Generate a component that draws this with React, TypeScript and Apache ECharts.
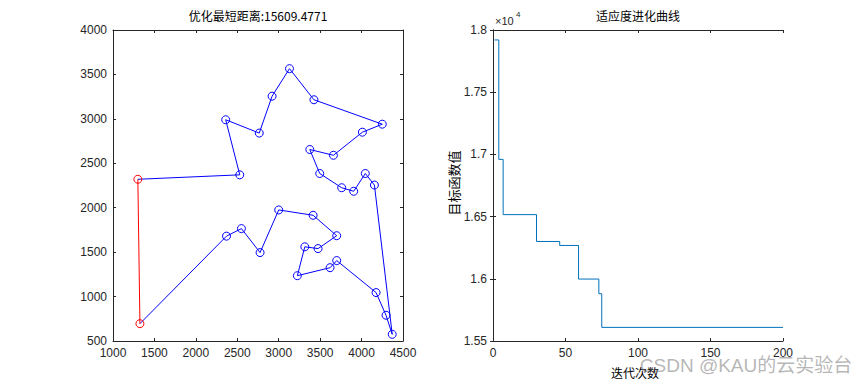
import React, { useEffect, useRef } from "react";
import * as echarts from "echarts";

// Route (city order) — TSP best tour
const routeX = [1300, 2530, 2360, 2765, 2920, 3130, 3425, 4250, 4010, 3660, 3375, 3495, 3760, 3905, 4045, 4155, 4370, 4295, 4175, 3700, 3620, 3225, 3315, 3475, 3700, 3415, 3000, 2775, 2550, 2370, 1325];
const routeY = [2320, 2370, 2990, 2840, 3255, 3565, 3215, 2940, 2850, 2590, 2655, 2385, 2225, 2185, 2385, 2255, 575, 790, 1045, 1405, 1325, 1235, 1560, 1540, 1685, 1915, 1975, 1495, 1765, 1680, 695];

// Fitness evolution (step changes): iteration where value starts, value
const iterBreaks = [1, 4, 7, 30, 46, 59, 73, 75, 200];
const fitnessVals = [17920, 16960, 16516, 16300, 16268, 15998, 15880, 15609.4771, 15609.4771];

const leftXTicks = { min: 1000, max: 4500, interval: 500 };
const leftYTicks = { min: 500, max: 4000, interval: 500 };
const rightXTicks = { min: 0, max: 200, interval: 50 };
const rightYTicks = { min: 15500, max: 18000, interval: 500 };

const leftTitle = "优化最短距离:15609.4771";
const rightTitle = "适应度进化曲线";
const rightXLabel = "迭代次数";
const rightYLabel = "目标函数值";
const watermark = "CSDN @KAU的云实验台";

const AX = "#262626";
const LAT = "'Liberation Sans', Arial, Helvetica, sans-serif";
const CJK = "'Noto Sans CJK SC', sans-serif";

function boxAxes(gridIndex: number, xt: any, yt: any, yFmt: (v: number) => string) {
  const tick = { show: true, inside: true, length: 3, lineStyle: { color: AX, width: 1 } };
  const line = { show: true, lineStyle: { color: AX, width: 1 } };
  const xAxes = [
    {
      type: "value", gridIndex, position: "bottom", ...xt,
      axisLine: line, axisTick: tick, splitLine: { show: false },
      axisLabel: { color: AX, fontSize: 12, fontFamily: LAT, margin: 6, formatter: (v: number) => String(v) },
    },
    {
      type: "value", gridIndex, position: "top", ...xt,
      axisLine: line, axisTick: tick, splitLine: { show: false }, axisLabel: { show: false },
    },
  ];
  const yAxes = [
    {
      type: "value", gridIndex, position: "left", ...yt,
      axisLine: line, axisTick: tick, splitLine: { show: false },
      axisLabel: { color: AX, fontSize: 12, fontFamily: LAT, margin: 6, formatter: yFmt },
    },
    {
      type: "value", gridIndex, position: "right", ...yt,
      axisLine: line, axisTick: tick, splitLine: { show: false }, axisLabel: { show: false },
    },
  ];
  return { xAxes, yAxes };
}

export default function App() {
  const ref = useRef<HTMLDivElement>(null);
  useEffect(() => {
    if (!ref.current) return;
    const chart = echarts.init(ref.current, undefined, { renderer: "svg" });
    const L = boxAxes(0, leftXTicks, leftYTicks, (v: number) => String(v));
    const R = boxAxes(1, rightXTicks, rightYTicks, (v: number) => String(v / 10000));

    const n = routeX.length;
    const route = routeX.map((x, i) =>
      i === 0 || i === n - 1 ? { value: [x, routeY[i]], symbol: "none" } : { value: [x, routeY[i]] }
    );
    const closing = [[routeX[n - 1], routeY[n - 1]], [routeX[0], routeY[0]]];
    const fitness = iterBreaks.map((it, i) => [it, fitnessVals[i]]);

    chart.setOption({
      animation: false,
      backgroundColor: "#ffffff",
      grid: [
        { left: 113, top: 30, width: 290, height: 311, show: false },
        { left: 493, top: 30, width: 290, height: 311, show: false },
      ],
      xAxis: [...L.xAxes, ...R.xAxes],
      yAxis: [...L.yAxes, ...R.yAxes],
      series: [
        {
          type: "line", xAxisIndex: 0, yAxisIndex: 0, data: route,
          symbol: "circle", symbolSize: 8, showSymbol: true,
          lineStyle: { color: "#0000ff", width: 1 },
          itemStyle: { color: "rgba(0,0,0,0)", borderColor: "#0000ff", borderWidth: 1 },
          z: 2,
        },
        {
          type: "line", xAxisIndex: 0, yAxisIndex: 0, data: closing,
          symbol: "circle", symbolSize: 8, showSymbol: true,
          lineStyle: { color: "#ff0000", width: 1 },
          itemStyle: { color: "rgba(0,0,0,0)", borderColor: "#ff0000", borderWidth: 1 },
          z: 3,
        },
        {
          type: "line", xAxisIndex: 2, yAxisIndex: 2, data: fitness, step: "end",
          symbol: "none", lineStyle: { color: "#0072BD", width: 1 },
        },
      ],
      graphic: [
        {
          type: "text", x: 258, y: 15,
          style: { text: leftTitle, fontSize: 12, fontFamily: CJK, fill: "#000", align: "center", verticalAlign: "middle" },
        },
        {
          type: "text", x: 638, y: 15,
          style: { text: rightTitle, fontSize: 12, fontFamily: CJK, fill: "#000", align: "center", verticalAlign: "middle" },
        },
        {
          type: "text", x: 495, y: 21,
          style: { text: "×10", fontSize: 11, fontFamily: LAT, fill: AX, align: "left", verticalAlign: "middle" },
        },
        {
          type: "text", x: 516, y: 14,
          style: { text: "4", fontSize: 8, fontFamily: LAT, fill: AX, align: "left", verticalAlign: "middle" },
        },
        {
          type: "text", x: 453, y: 183, rotation: Math.PI / 2,
          style: { text: rightYLabel, fontSize: 13, fontFamily: CJK, fill: "#000", align: "center", verticalAlign: "middle" },
        },
        {
          type: "text", x: 635, y: 372,
          style: { text: rightXLabel, fontSize: 12, fontFamily: CJK, fill: "#000", align: "center", verticalAlign: "middle" },
        },
        {
          type: "text", x: 746, y: 365, z: 100,
          style: { text: watermark, fontSize: 19, fontFamily: LAT + ", " + CJK, fill: "rgba(110,110,110,0.5)", align: "center", verticalAlign: "middle" },
        },
      ],
    });
    return () => chart.dispose();
  }, []);
  return <div ref={ref} style={{ position: "fixed", left: 0, top: 0, width: 865, height: 384 }} />;
}
